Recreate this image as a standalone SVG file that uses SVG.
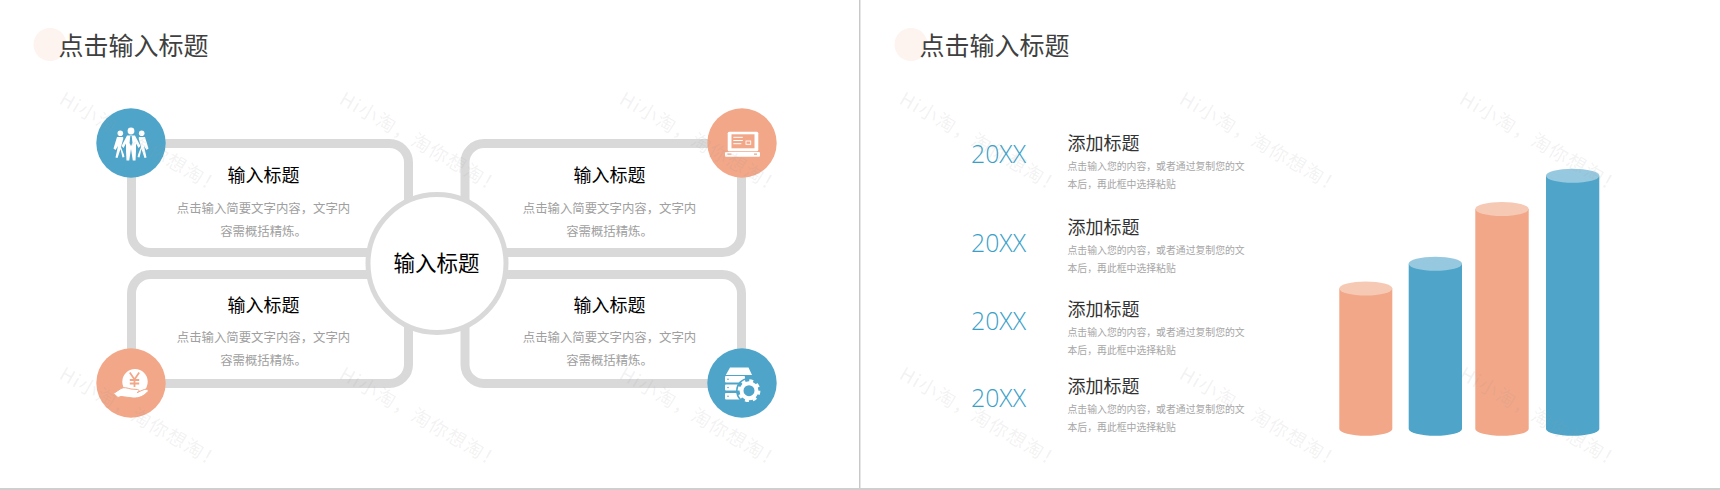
<svg xmlns="http://www.w3.org/2000/svg" width="1720" height="490" viewBox="0 0 1720 490">
<style>
text{font-family:"Noto Sans CJK SC","Noto Sans",sans-serif}
.page{font-size:25px;fill:#404040}
.dot{fill:#fdf3ef}
.frame{fill:#fff;stroke:#d9d9d9;stroke-width:9}
.ct{font-size:18px;fill:#000;text-anchor:middle}
.cd{font-size:12.4px;fill:#a0a0a0;text-anchor:middle}
.yr{font-family:"Open Sans","Noto Sans",sans-serif;font-weight:300;font-size:24.800px;fill:#3a9fc8}
.rt{font-size:18px;fill:#333}
.rd{font-size:9.85px;fill:#a6a6a6}
.bl{fill:#4ea5c9}.or{fill:#f2a788}
.blt{fill:#96c9df}.ort{fill:#f6c9b5}
.w{fill:#fff}
.wm{font-size:19px;letter-spacing:1.300px;fill:#999;fill-opacity:.13}
</style>
<rect width="1720" height="490" fill="#fff"/>
<rect x="859" y="0" width="1" height="490" fill="#c8c8c8"/>
<rect x="860" y="0" width="1" height="490" fill="#e6e6e6"/>
<rect x="0" y="488" width="1720" height="2" fill="#cfcfcf"/>

<g id="connectors"></g>

<g id="title-left"><circle class="dot" cx="50" cy="44.500" r="16.500"/><text class="page" x="58.500" y="54.500">点击输入标题</text></g>
<g id="title-right"><circle class="dot" cx="911" cy="44.500" r="16.500"/><text class="page" x="919.500" y="54.500">点击输入标题</text></g>

<g id="card-tl">
<rect class="frame" x="131.500" y="143.500" width="277" height="109" rx="19"/>
<text class="ct" x="263.500" y="182">输入标题</text>
<text class="cd" x="263.500" y="213">点击输入简要文字内容，文字内</text>
<text class="cd" x="263.500" y="235.500">容需概括精炼。</text>
</g>
<g id="card-tr">
<rect class="frame" x="465" y="143.500" width="276.500" height="109" rx="19"/>
<text class="ct" x="609.500" y="182">输入标题</text>
<text class="cd" x="609.500" y="213">点击输入简要文字内容，文字内</text>
<text class="cd" x="609.500" y="235.500">容需概括精炼。</text>
</g>
<g id="card-bl">
<rect class="frame" x="131.500" y="274.500" width="277" height="109" rx="19"/>
<text class="ct" x="263.500" y="311.500">输入标题</text>
<text class="cd" x="263.500" y="342">点击输入简要文字内容，文字内</text>
<text class="cd" x="263.500" y="364.500">容需概括精炼。</text>
</g>
<g id="card-br">
<rect class="frame" x="465" y="274.500" width="276.500" height="109" rx="19"/>
<text class="ct" x="609.500" y="311.500">输入标题</text>
<text class="cd" x="609.500" y="342">点击输入简要文字内容，文字内</text>
<text class="cd" x="609.500" y="364.500">容需概括精炼。</text>
</g>

<g id="center-node">
<circle cx="437" cy="263.500" r="69" fill="#fff" stroke="#d9d9d9" stroke-width="5"/>
<text x="436.500" y="270.500" font-size="21.500" fill="#000" text-anchor="middle">输入标题</text>
</g>

<g id="icon-people">
<circle class="bl" cx="131" cy="143" r="34.700"/>
<g class="w">
<circle cx="120.300" cy="133.300" r="2.800"/><circle cx="141.700" cy="133.300" r="2.800"/><circle cx="131" cy="131" r="3.400"/>
<path d="M117 137L123 137L126 143L124 149L124.500 157L122.500 157.500L120.500 149L117.500 158L115.500 157.500L118 146L115.500 150L113.500 148.500Z"/>
<path d="M145 137L139 137L136 143L138 149L137.500 157L139.500 157.500L141.500 149L144.500 158L146.500 157.500L144 146L146.500 150L148.500 148.500Z"/>
</g>
<path class="bl" d="M124 136L138 136L141 147L136 160L126 160L121 147Z"/>
<path class="w" d="M127 135.500L135 135.500L140.500 146L138.500 148L136 143.500L136 151L135.500 160.500L132.800 160.500L131 149L129.200 160.500L126.500 160.500L126 151L126 143.500L123.500 148L121.500 146Z"/>
<path class="bl" d="M130.300 136L131.700 136L132.500 143L131 146L129.500 143Z"/>
</g>

<g id="icon-laptop">
<circle class="or" cx="742" cy="143" r="34.700"/>
<rect class="w" x="727.700" y="131.700" width="30.600" height="19.500" rx="1.500"/>
<rect class="or" x="731.500" y="134.300" width="23" height="14"/>
<rect class="w" x="733.300" y="136.800" width="9.500" height="1"/>
<rect class="w" x="733.300" y="140" width="9.500" height="1"/>
<rect class="w" x="733.300" y="143.200" width="8" height="1"/>
<rect x="746" y="141" width="4.700" height="3.300" fill="none" stroke="#fff" stroke-width=".9"/>
<rect class="w" x="725" y="152" width="35" height="4.700" rx="1"/>
<rect class="or" x="727.500" y="153.500" width="4" height="1.300"/>
<rect class="or" x="754" y="153.500" width="3" height="1.300"/>
</g>

<g id="icon-coin">
<circle class="or" cx="131" cy="383" r="34.700"/>
<circle class="w" cx="135" cy="381.700" r="12.700"/>
<path d="M129.800 372.500L134.500 379.500L139.200 372.500M134.500 379.500V387M129.800 380H139.200M129.800 383.500H139.200" fill="none" stroke="#f2a788" stroke-width="1.800"/>
<path class="w" stroke="#f2a788" stroke-width="1" d="M113.500 393.500L121 388.500C124 386.800 127 388 131 389L137.500 389.500C140 390 139.500 392.500 137 392.500L143 390C146 388.500 149 389.500 148 391.500C144 396 139 398.500 133 398L121 396.500L118 397.500Z"/>
</g>

<g id="icon-server">
<circle class="bl" cx="742" cy="383" r="34.700"/>
<path class="w" d="M730 367.600H748.500L752 375H725.800Z"/>
<rect class="w" x="725" y="376" width="20" height="6.500" rx="1"/>
<rect class="w" x="725" y="384.500" width="18" height="6" rx="1"/>
<rect class="w" x="725" y="393" width="20" height="6.500" rx="1"/>
<circle class="bl" cx="728" cy="379.300" r=".8"/><circle class="bl" cx="728" cy="387.500" r=".8"/><circle class="bl" cx="728" cy="396.200" r=".8"/>
<circle class="bl" cx="749" cy="390.700" r="13"/>
<circle cx="749" cy="390.700" r="7.500" fill="none" stroke="#fff" stroke-width="4"/>
<circle cx="749" cy="390.700" r="10" fill="none" stroke="#fff" stroke-width="2.800" stroke-dasharray="3.900 3.950"/>
</g>

<g id="row-1"><text class="yr" x="971" y="162.700">20XX</text><text class="rt" x="1067.500" y="150">添加标题</text><text class="rd" x="1067.500" y="170">点击输入您的内容，或者通过复制您的文</text><text class="rd" x="1067.500" y="188">本后，再此框中选择粘贴</text></g>
<g id="row-2"><text class="yr" x="971" y="252">20XX</text><text class="rt" x="1067.500" y="233.500">添加标题</text><text class="rd" x="1067.500" y="254">点击输入您的内容，或者通过复制您的文</text><text class="rd" x="1067.500" y="272">本后，再此框中选择粘贴</text></g>
<g id="row-3"><text class="yr" x="971" y="330">20XX</text><text class="rt" x="1067.500" y="315.500">添加标题</text><text class="rd" x="1067.500" y="335.500">点击输入您的内容，或者通过复制您的文</text><text class="rd" x="1067.500" y="353.500">本后，再此框中选择粘贴</text></g>
<g id="row-4"><text class="yr" x="971" y="406.700">20XX</text><text class="rt" x="1067.500" y="392.500">添加标题</text><text class="rd" x="1067.500" y="412.500">点击输入您的内容，或者通过复制您的文</text><text class="rd" x="1067.500" y="430.500">本后，再此框中选择粘贴</text></g>

<g id="bar-1"><path class="or" d="M1339.300 288.500V429A26.500 6.700 0 0 0 1392.300 429V288.500Z"/><ellipse class="ort" cx="1365.800" cy="288.500" rx="26.500" ry="7"/></g>
<g id="bar-2"><path class="bl" d="M1408.700 263.800V429A26.650 6.700 0 0 0 1462 429V263.800Z"/><ellipse class="blt" cx="1435.350" cy="263.800" rx="26.650" ry="7"/></g>
<g id="bar-3"><path class="or" d="M1475.300 209V429A26.700 6.700 0 0 0 1528.700 429V209Z"/><ellipse class="ort" cx="1502" cy="209" rx="26.700" ry="7"/></g>
<g id="bar-4"><path class="bl" d="M1546 175.700V429A26.650 6.700 0 0 0 1599.300 429V175.700Z"/><ellipse class="blt" cx="1572.650" cy="175.700" rx="26.650" ry="7"/></g>

<g id="watermarks">
<text class="wm" transform="translate(58 103) rotate(30)">Hi小淘，淘你想淘！</text>
<text class="wm" transform="translate(338 103) rotate(30)">Hi小淘，淘你想淘！</text>
<text class="wm" transform="translate(618 103) rotate(30)">Hi小淘，淘你想淘！</text>
<text class="wm" transform="translate(898 103) rotate(30)">Hi小淘，淘你想淘！</text>
<text class="wm" transform="translate(1178 103) rotate(30)">Hi小淘，淘你想淘！</text>
<text class="wm" transform="translate(1458 103) rotate(30)">Hi小淘，淘你想淘！</text>
<text class="wm" transform="translate(58 378) rotate(30)">Hi小淘，淘你想淘！</text>
<text class="wm" transform="translate(338 378) rotate(30)">Hi小淘，淘你想淘！</text>
<text class="wm" transform="translate(618 378) rotate(30)">Hi小淘，淘你想淘！</text>
<text class="wm" transform="translate(898 378) rotate(30)">Hi小淘，淘你想淘！</text>
<text class="wm" transform="translate(1178 378) rotate(30)">Hi小淘，淘你想淘！</text>
<text class="wm" transform="translate(1458 378) rotate(30)">Hi小淘，淘你想淘！</text>
</g>
</svg>
